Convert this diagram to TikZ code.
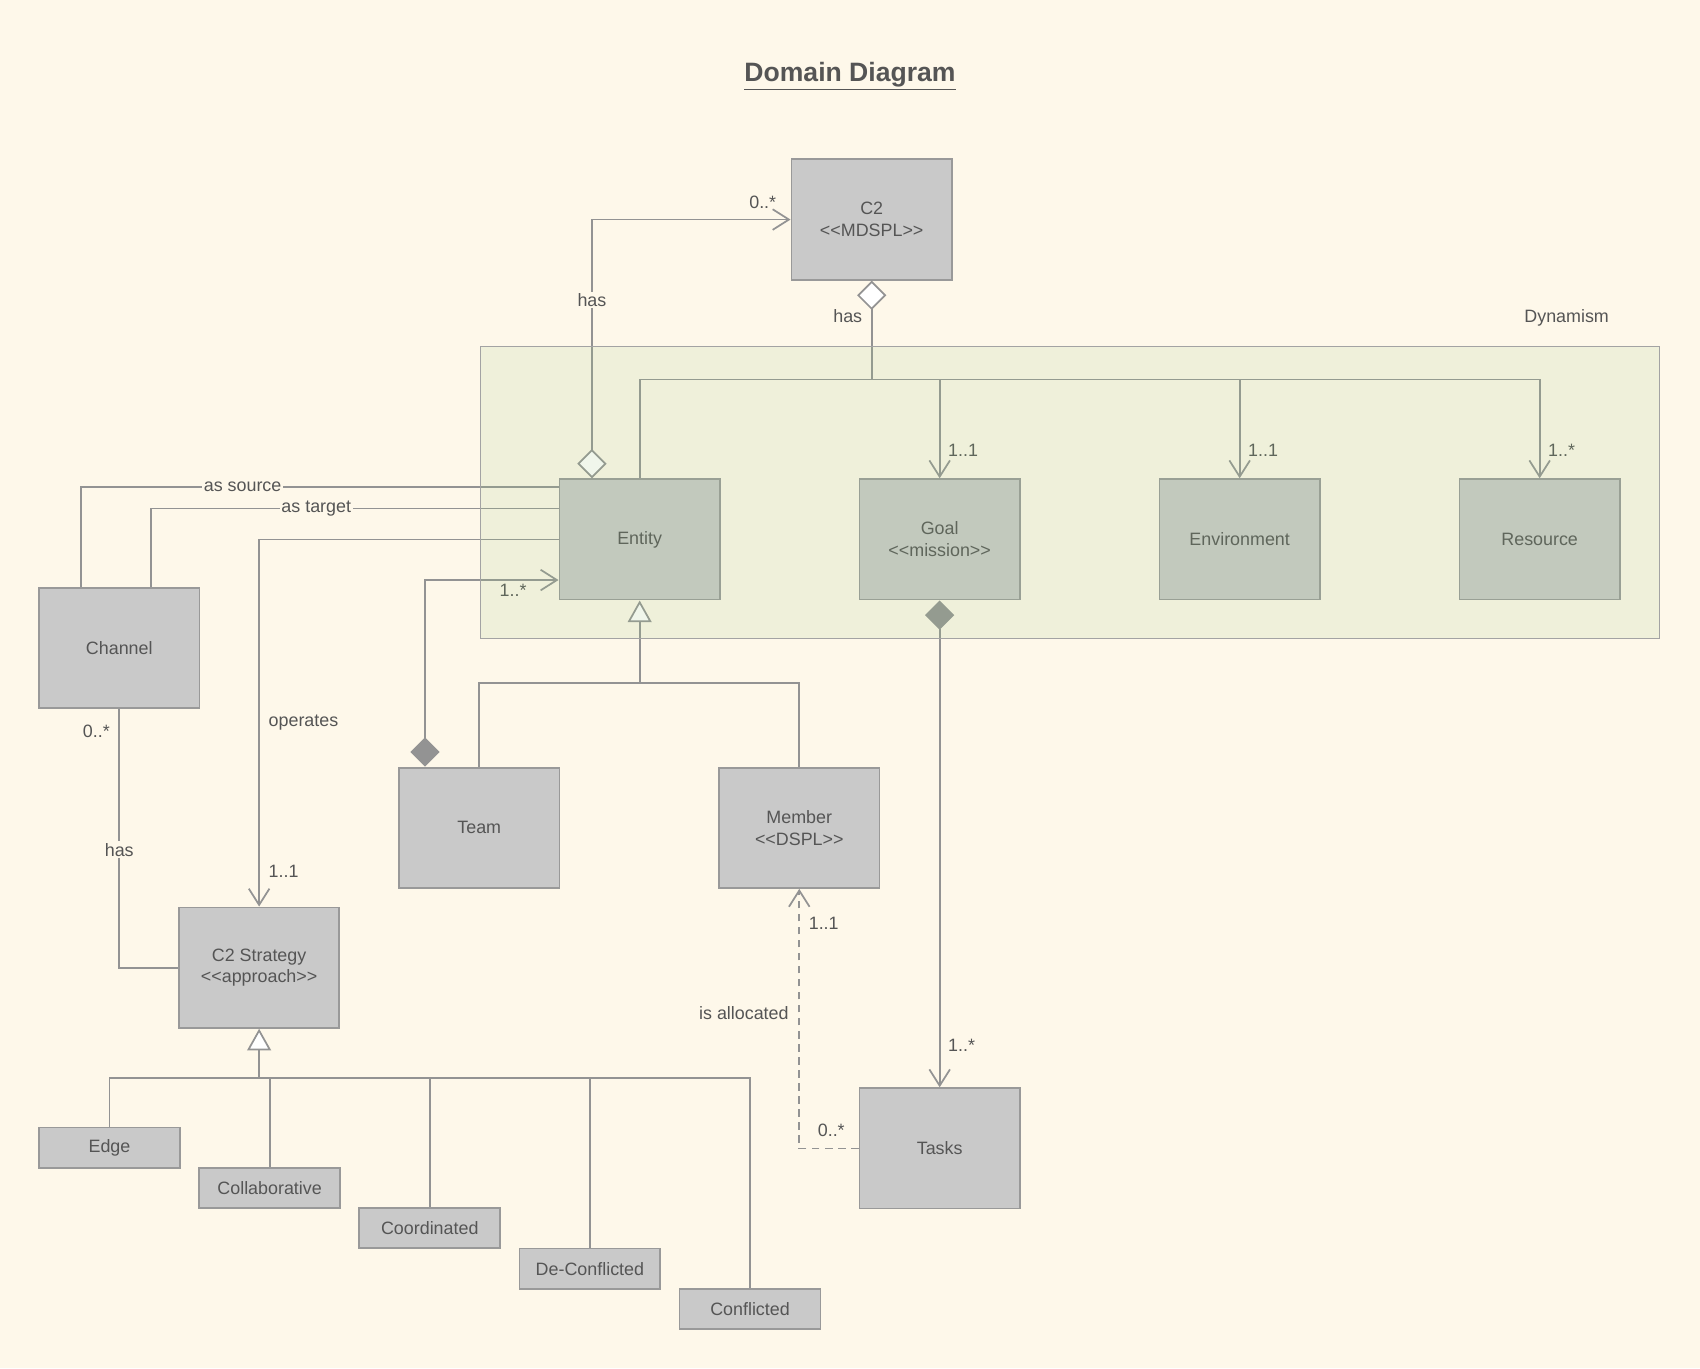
\documentclass[tikz,border=0pt]{standalone}
\usepackage{fontspec}
\newfontfamily\umlfont{Liberation Sans}
\usepackage{tikz}
\usetikzlibrary{positioning,arrows.meta}
\definecolor{paper}{HTML}{FEF8EA}
\definecolor{zonegreen}{HTML}{9BC97F}
\definecolor{zoneline}{HTML}{A3A3A3}
\definecolor{boxgray}{HTML}{C9C9C9}
\definecolor{frame}{HTML}{999999}
\definecolor{wire}{HTML}{939393}
\definecolor{ink}{HTML}{555555}
\tikzset{umlbox/.style={draw=frame,line width=1.7pt,fill=boxgray,text=ink,font=\umlfont\fontsize{16.5}{20}\selectfont,minimum width=148pt,minimum height=111pt,align=center,inner sep=0pt},
         kind/.style={umlbox,minimum width=130pt,minimum height=37pt},
         link/.style={draw=wire,line width=1.6pt},
         mult/.style={text=ink,font=\umlfont\fontsize{16.5}{20}\selectfont,inner sep=3pt},
         tag/.style={mult,fill=paper,inner sep=1.5pt},
         title/.style={text=ink,font=\umlfont\bfseries\fontsize{24.5}{28}\selectfont},
         barb/.tip={Straight Barb[length=15pt,width=19pt]},
         odia/.tip={Diamond[fill=white,length=27pt,width=27pt]},
         fdia/.tip={Diamond[length=27pt,width=27pt]},
         otri/.tip={Triangle[fill=white,length=20pt,width=22pt]}
}
\begin{document}
\begin{tikzpicture}[x=1pt,y=-1pt]
  \fill[paper] (0,0) rectangle (1568,1262);
  \useasboundingbox (0,0) rectangle (1568,1262);
  \node[title] (t) at (784,70) {\underline{Domain Diagram}};
  \node[mult] (dyn) at (1445,293) {Dynamism};
  % classes
  \node[umlbox] (c2) at (804,202.5) {C2\\<<MDSPL>>};
  \node[umlbox] (entity) at (590,497.5) {Entity};
  \node[umlbox,right=127pt of entity] (goal) {Goal\\<<mission>>};
  \node[umlbox,right=127pt of goal] (env) {Environment};
  \node[umlbox,right=127pt of env] (res) {Resource};
  \node[umlbox] (channel) at (110,597.5) {Channel};
  \node[umlbox] (team) at (442,763.5) {Team};
  \node[umlbox,right=145.5pt of team] (member) {Member\\<<DSPL>>};
  \node[umlbox] (strategy) at (239,892.5) {C2 Strategy\\<<approach>>};
  \node[umlbox,below=449pt of goal] (tasks) {Tasks};
  \node[kind] (edge) at (101,1058.5) {Edge};
  \node[kind,below right=-1.5pt and 16pt of edge] (collab) {Collaborative};
  \node[kind,below right=-1.5pt and 16pt of collab] (coord) {Coordinated};
  \node[kind,below right=-1.5pt and 16pt of coord] (decon) {De-Conflicted};
  \node[kind,below right=-1.5pt and 16pt of decon] (confl) {Conflicted};
  % C2 has the dynamism classes
  \coordinate (hub) at (804,350);
  \draw[link,odia-] (c2.south) -- node[mult,left=5pt,pos=0.36] {has} (hub);
  \draw[link] (hub) -| (entity.north);
  \draw[link,-barb] (hub) -| node[mult,right=4pt,pos=0.86] {1..1} (goal.north);
  \draw[link,-barb] (hub) -| node[mult,right=4pt,pos=0.86] {1..1} (env.north);
  \draw[link,-barb] (hub) -| node[mult,right=4pt,pos=0.86] {1..*} (res.north);
  \draw[link,odia-barb] ([xshift=-44pt]entity.north) |- node[tag,pos=0.345] {has} node[mult,above=6pt,pos=0.93] {0..*} (c2.west);
  % channel and strategy
  \draw[link] ([xshift=-35pt]channel.north) |- node[tag,pos=0.669] {as source} ([yshift=48.5pt]entity.west);
  \draw[link] ([xshift=29pt]channel.north) |- node[tag,pos=0.703] {as target} ([yshift=28.5pt]entity.west);
  \draw[link,-barb] (entity.west) -| node[mult,right=5pt,pos=0.749] {operates} node[mult,right=5pt,pos=0.952] {1..1} (strategy.north);
  \draw[link] (channel.south) |- node[mult,left=5pt,pos=0.044] {0..*} node[tag,pos=0.272] {has} (strategy.west);
  % team and member
  \draw[link,fdia-barb] ([xshift=-50pt]team.north) |- node[mult,below,pos=0.83] {1..*} ([yshift=-37.5pt]entity.west);
  \coordinate (split) at (590,630);
  \draw[link,-otri] (split) -- (entity.south);
  \draw[link] (team.north) |- (split) -| (member.north);
  % goal and tasks
  \draw[link,fdia-barb] (goal.south) -- node[mult,right=4pt,pos=0.913] {1..*} (tasks.north);
  \draw[link,dash pattern=on 7pt off 5pt,-barb] (tasks.west) -| node[mult,above=7pt,pos=0.23] {0..*} node[mult,left=6pt,pos=0.76] {is allocated} node[mult,right=5pt,pos=0.933] {1..1} (member.south);
  % kinds of strategy
  \coordinate (fork) at (239,994);
  \draw[link,-otri] (fork) -- (strategy.south);
  \draw[link] (edge.north) |- (fork) -| (confl.north);
  \draw[link] (fork) -| (collab.north);
  \draw[link] (fork) -| (coord.north);
  \draw[link] (fork) -| (decon.north);
  % dynamism zone over the classes
  \draw[draw=zoneline,line width=0.9pt,fill=zonegreen,fill opacity=0.15] (443,320) rectangle (1531,589);
\end{tikzpicture}
\end{document}
